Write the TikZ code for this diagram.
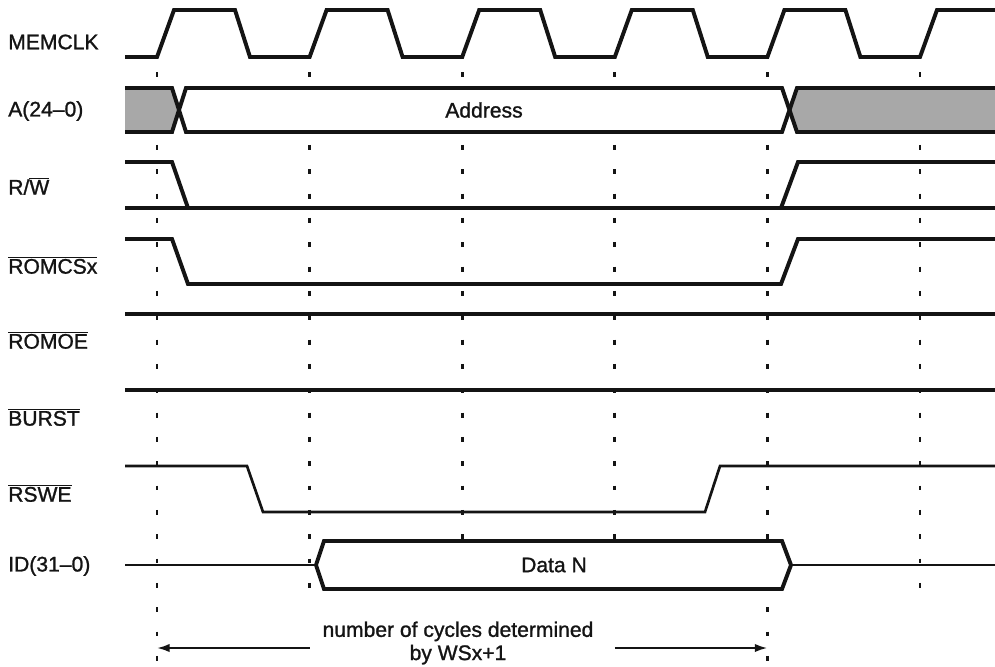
\documentclass[tikz,border=0pt]{standalone}
\usepackage{fontspec}
\setmainfont{Liberation Sans}
\newfontfamily\sigfont{Liberation Sans}[Ligatures=TeX,FakeBold=1.2]
\usetikzlibrary{arrows.meta,positioning}
\definecolor{ink}{RGB}{20,20,20}
\definecolor{shade}{RGB}{168,168,168}
\newcommand{\nbar}[1]{$\overline{\hbox{#1}}$}
\tikzset{
  wave/.style={line width=2.8pt,ink,line join=miter},
  level/.style={line width=1.9pt,ink},
  guide/.style={line width=2.1pt,ink,dash pattern=on 3.5pt off 13.8pt},
  span/.style={line width=1.5pt,ink,-{Latex[length=9pt,width=6pt]}},
  hatch/.style={fill=shade,draw=none},
  signame/.style={font=\sigfont\fontsize{15}{17}\selectfont,anchor=west,text=ink,inner sep=0pt},
  buslabel/.style={font=\sigfont\fontsize{15}{16.5}\selectfont,text=ink,align=center}
}

\begin{document}
\begin{tikzpicture}[x=0.025cm,y=-0.025cm]
  \useasboundingbox (0,0) rectangle (995,666);
  % signal names
  \node[signame] (memclk) at (8,42) {MEMCLK};
  \node[signame] (addrname) at (8,111) {A(24--0)};
  \node[signame] (rw) at (8,186) {R/\nbar{W}};
  \node[signame] (romcs) at (8,265) {\nbar{ROMCSx}};
  \node[signame] (romoe) at (8,340) {\nbar{ROMOE}};
  \node[signame] (burst) at (8,417) {\nbar{BURST}};
  \node[signame] (rswe) at (8,493) {\nbar{RSWE}};
  \node[signame] (idname) at (8,566) {ID(31--0)};
  % clock edges
  \foreach \k/\len in {0/594,1/520,2/520,3/520,4/594,5/520} {
    \coordinate (edge\k) at ({157+152.6*\k},72);
    \coordinate (mark\k) at ({157+152.6*\k},648);
    \draw[guide] (edge\k) -- ++(0,\len);
  }
  \draw[wave] (125,57) foreach \k in {0,...,4} {
      -- ({157+152.6*\k},57) -- ++(17,-47) -- ++(61,0) -- ++(15,47) }
    -- (920,57) -- ++(17,-47) -- (995,10);
  % address bus
  \fill[hatch] (125,88) -- (172,88) -- (179,110) -- (172,132) -- (125,132) -- cycle;
  \fill[hatch] (789,110) -- (797,88) -- (995,88) -- (995,132) -- (797,132) -- cycle;
  \fill[white] (179,110) -- (186,88) -- (782,88) -- (789,110) -- (782,132) -- (186,132) -- cycle;
  \draw[wave] (125,88) -- (172,88) -- (186,132) -- (782,132) -- (797,88) -- (995,88);
  \draw[wave] (125,132) -- (172,132) -- (186,88) -- (782,88) -- (797,132) -- (995,132);
  \node[buslabel] (addr) at (484,110) {Address};
  % R/W
  \draw[wave] (125,162) -- (172,162) -- (188,208);
  \draw[wave] (125,208) -- (995,208);
  \draw[wave] (781,208) -- (798,162) -- (995,162);
  % chip select, output enable, burst
  \draw[wave] (125,239) -- (172,239) -- (188,284) -- (781,284) -- (798,239) -- (995,239);
  \draw[wave] (125,314) -- (995,314);
  \draw[wave] (125,390) -- (995,390);
  % write enable
  \draw[level] (125,466) -- (247,466) -- (263,512) -- (705,512) -- (720,466) -- (995,466);
  % data bus
  \draw[level] (125,565) -- (316,565);
  \filldraw[wave,fill=white] (316,565) -- (324,541) -- (782,541) -- (791,565) -- (782,589) -- (324,589) -- cycle;
  \draw[level] (791,565) -- (995,565);
  \node[buslabel] (data) at (554,565) {Data N};
  % wait states
  \node[buslabel] (cycles) at (458,643) {number of cycles determined\\by WSx+1};
  \draw[span] (mark1) -- (mark0);
  \draw[span] (mark3) -- (mark4);
\end{tikzpicture}
\end{document}
